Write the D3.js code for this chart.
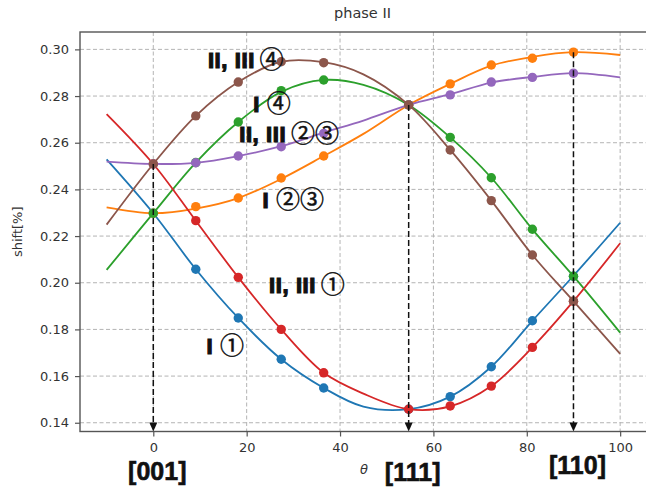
<!DOCTYPE html>
<html>
<head>
<meta charset="utf-8">
<script src="https://cdn.jsdelivr.net/npm/d3@7"></script>
<style>
  html, body { margin: 0; padding: 0; background: #ffffff; }
  svg { display: block; }
</style>
</head>
<body>
<svg id="chart" width="646" height="493"></svg>
<script>
// ---- measured points (angle from [001], degrees) ----
const thetaPts = [0, 9.1, 18.2, 27.4, 36.5, 54.7, 63.6, 72.4, 81.2, 90];
const ptsI1     = [0.2298, 0.2058, 0.1849, 0.1672, 0.1549, 0.1458, 0.1512, 0.1640, 0.1837, 0.2028];
const ptsI23    = [0.2298, 0.2326, 0.2363, 0.2449, 0.2543, 0.2762, 0.2852, 0.2933, 0.2962, 0.2988];
const ptsI4     = [0.2298, 0.2515, 0.2689, 0.2823, 0.2869, 0.2762, 0.2623, 0.2450, 0.2229, 0.2028];
const ptsII1    = [0.2509, 0.2266, 0.2023, 0.1800, 0.1614, 0.1458, 0.1472, 0.1557, 0.1723, 0.1921];
const ptsII23   = [0.2509, 0.2514, 0.2543, 0.2583, 0.2640, 0.2762, 0.2805, 0.2860, 0.2880, 0.2898];
const ptsII4    = [0.2509, 0.2715, 0.2860, 0.2947, 0.2943, 0.2762, 0.2569, 0.2352, 0.2119, 0.1921];

// ---- fitted curves, sampled ----
const thetaFit = [-10, 0, 9.1, 18.2, 27.4, 36.5, 45, 54.7, 63.6, 72.4, 81.2, 90, 100];
const fitI1   = [0.2529, 0.2298, 0.2058, 0.1849, 0.1672, 0.1549, 0.1469, 0.1458, 0.1512, 0.1640, 0.1837, 0.2030, 0.2257];
const fitI23  = [0.2323, 0.2298, 0.2318, 0.2363, 0.2445, 0.2543, 0.2638, 0.2762, 0.2852, 0.2930, 0.2968, 0.2988, 0.2976];
const fitI4   = [0.2055, 0.2298, 0.2515, 0.2689, 0.2818, 0.2869, 0.2848, 0.2762, 0.2623, 0.2450, 0.2229, 0.2028, 0.1786];
const fitII1  = [0.2723, 0.2509, 0.2266, 0.2023, 0.1800, 0.1614, 0.1525, 0.1458, 0.1470, 0.1557, 0.1723, 0.1921, 0.2169];
const fitII23 = [0.2519, 0.2509, 0.2514, 0.2543, 0.2585, 0.2643, 0.2695, 0.2762, 0.2808, 0.2858, 0.2882, 0.2898, 0.2880];
const fitII4  = [0.2249, 0.2509, 0.2715, 0.2860, 0.2947, 0.2945, 0.2893, 0.2762, 0.2569, 0.2352, 0.2119, 0.1921, 0.1695];

// ---- axes ticks ----
const xTicks = [0, 20, 40, 60, 80, 100];
const yTicks = [0.14, 0.16, 0.18, 0.20, 0.22, 0.24, 0.26, 0.28, 0.30];

// ---- direction markers: angle and the level where the dashed arrow starts ----
const dirNames  = ["[001]", "[111]", "[110]"];
const dirTheta  = [0, 54.7, 90];
const dirStart  = [0.2509, 0.2762, 0.2988];

const series = [
  { pts: ptsI1,   fit: fitI1,   color: "#1f77b4" },
  { pts: ptsI23,  fit: fitI23,  color: "#ff7f0e" },
  { pts: ptsI4,   fit: fitI4,   color: "#2ca02c" },
  { pts: ptsII1,  fit: fitII1,  color: "#d62728" },
  { pts: ptsII23, fit: fitII23, color: "#9467bd" },
  { pts: ptsII4,  fit: fitII4,  color: "#8c564b" }
];

// curve labels placed in data coordinates (left edge, baseline)
const curveLabels = [
  { text: "II, III", circ: "④",  t: 11.7, v: 0.2920 },
  { text: "I",       circ: "④",  t: 21.4, v: 0.2730 },
  { text: "II, III", circ: "②③", t: 18.4, v: 0.2601 },
  { text: "I",       circ: "②③", t: 23.4, v: 0.2320 },
  { text: "II, III", circ: "①",  t: 24.8, v: 0.1958 },
  { text: "I",       circ: "①",  t: 11.4, v: 0.1695 }
];

const svg = d3.select("#chart");
const L = 80, R = 647, T = 32, B = 431.5;

const x = d3.scaleLinear().domain([-15.7, 105.75]).range([L, R]);
const y = d3.scaleLinear().domain([0.13625, 0.30745]).range([B, T]);

svg.append("rect").attr("width", 646).attr("height", 493).attr("fill", "#fff");

// clip for plotted content
svg.append("defs").append("clipPath").attr("id", "plotclip")
  .append("rect").attr("x", L).attr("y", T).attr("width", R - L).attr("height", B - T);

// grid
const grid = svg.append("g").attr("stroke", "#b4b4b4").attr("stroke-width", 1)
  .attr("stroke-dasharray", "4,2.5");
grid.selectAll("line.gx").data(xTicks).join("line")
  .attr("x1", d => x(d)).attr("x2", d => x(d)).attr("y1", T).attr("y2", B);
grid.selectAll("line.gy").data(yTicks).join("line")
  .attr("x1", L).attr("x2", R).attr("y1", d => y(d)).attr("y2", d => y(d));

// curves + markers
const plot = svg.append("g").attr("clip-path", "url(#plotclip)");
const line = d3.line()
  .x((d, i) => x(thetaFit[i]))
  .y(d => y(d))
  .curve(d3.curveCatmullRom.alpha(0.5));

series.forEach(s => {
  plot.append("path").datum(s.fit)
    .attr("d", line)
    .attr("fill", "none")
    .attr("stroke", s.color)
    .attr("stroke-width", 1.8);
  plot.selectAll(null).data(s.pts).join("circle")
    .attr("cx", (d, i) => x(thetaPts[i]))
    .attr("cy", d => y(d))
    .attr("r", 4.7)
    .attr("fill", s.color);
});

// dashed arrows down to the axis
const arrows = svg.append("g");
dirTheta.forEach((t, i) => {
  const px = x(t);
  arrows.append("line")
    .attr("x1", px).attr("x2", px)
    .attr("y1", y(dirStart[i])).attr("y2", B - 8)
    .attr("stroke", "#111").attr("stroke-width", 1.5)
    .attr("stroke-dasharray", "6,3");
  arrows.append("path")
    .attr("d", `M${px - 4},${B - 9} L${px + 4},${B - 9} L${px},${B} Z`)
    .attr("fill", "#111");
});

// frame
svg.append("rect")
  .attr("x", L).attr("y", T).attr("width", R - L).attr("height", B - T)
  .attr("fill", "none").attr("stroke", "#555").attr("stroke-width", 1.4);

// axes
const tickFont = "'DejaVu Sans', sans-serif";
const xAxis = svg.append("g").attr("transform", `translate(0,${B})`)
  .call(d3.axisBottom(x).tickValues(xTicks).tickSize(5).tickPadding(6).tickFormat(d3.format("d")));
const yAxis = svg.append("g").attr("transform", `translate(${L},0)`)
  .call(d3.axisLeft(y).tickValues(yTicks).tickSize(5).tickPadding(6).tickFormat(d3.format(".2f")));
[xAxis, yAxis].forEach(a => {
  a.select(".domain").remove();
  a.selectAll(".tick line").attr("stroke", "#555").attr("stroke-width", 1.2);
  a.selectAll(".tick text").attr("fill", "#333").style("font-family", tickFont).style("font-size", "13px");
});

// title and axis labels
svg.append("text").attr("x", (L + 645) / 2).attr("y", 18)
  .attr("text-anchor", "middle").attr("fill", "#333")
  .style("font-family", tickFont).style("font-size", "14.5px")
  .text("phase II");

svg.append("text")
  .attr("transform", `translate(22,${(T + B) / 2}) rotate(-90)`)
  .attr("text-anchor", "middle").attr("fill", "#333")
  .style("font-family", tickFont).style("font-size", "13px")
  .text("shift[%]");

svg.append("text").attr("x", 364).attr("y", 474)
  .attr("text-anchor", "middle").attr("fill", "#333")
  .style("font-family", tickFont).style("font-size", "13px").style("font-style", "italic")
  .text("θ");

// crystal directions under the axis
const dirBase = [480, 481, 474];
dirNames.forEach((n, i) => {
  svg.append("text")
    .attr("x", x(dirTheta[i]) + 4).attr("y", dirBase[i])
    .attr("text-anchor", "middle").attr("fill", "#111")
    .attr("stroke", "#111").attr("stroke-width", 0.6)
    .style("font-family", "'Liberation Sans', Arial, sans-serif")
    .style("font-weight", "bold").style("font-size", "25px")
    .text(n);
});

// curve labels
curveLabels.forEach(c => {
  const t = svg.append("text")
    .attr("x", x(c.t)).attr("y", y(c.v))
    .attr("fill", "#111");
  t.append("tspan")
    .attr("stroke", "#111").attr("stroke-width", 1.2)
    .style("font-family", "'Liberation Sans', Arial, sans-serif")
    .style("font-weight", "bold").style("font-size", "22px")
    .style("letter-spacing", "0.6px")
    .text(c.text + "\u00a0");
  t.append("tspan")
    .attr("dx", c.text.length > 1 ? -2 : 0)
    .attr("stroke", "#111").attr("stroke-width", 0.5)
    .style("font-family", "'Noto Sans CJK JP', 'DejaVu Sans', sans-serif")
    .style("font-size", "24px")
    .text(c.circ);
});
</script>
</body>
</html>
